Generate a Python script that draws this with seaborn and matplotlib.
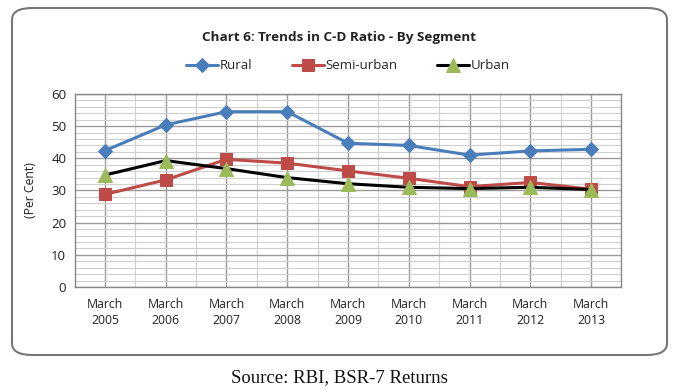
import matplotlib
matplotlib.use("Agg")
import matplotlib.pyplot as plt
import seaborn as sns
import pandas as pd
import numpy as np
from matplotlib.patches import FancyBboxPatch
from matplotlib.ticker import MultipleLocator

years = ["March\n2005", "March\n2006", "March\n2007", "March\n2008", "March\n2009",
         "March\n2010", "March\n2011", "March\n2012", "March\n2013"]
rural = [42.4, 50.4, 54.5, 54.5, 44.7, 44.0, 41.0, 42.3, 42.8]
semi_urban = [28.8, 33.3, 39.7, 38.5, 36.1, 33.8, 31.2, 32.5, 30.4]
urban = [34.8, 39.3, 36.8, 34.0, 32.1, 31.0, 30.6, 31.0, 30.3]

sns.set_theme(style="white")
plt.rcParams['font.family'] = ['Open Sans', 'DejaVu Sans']

fig = plt.figure(figsize=(6.79, 3.92), dpi=100)
W, H = 679, 392
ax = fig.add_axes([74.6 / W, 1 - 287 / H, (621.4 - 74.6) / W, (287 - 94) / H])

x = np.arange(len(years))
df = pd.DataFrame({"x": np.tile(x, 3),
                   "v": rural + semi_urban + urban,
                   "s": ["Rural"] * 9 + ["Semi-urban"] * 9 + ["Urban"] * 9})

line_cols = {"Rural": "#4a7ebb", "Semi-urban": "#be4b48", "Urban": "#000000"}
mk = {"Rural": "D", "Semi-urban": "s", "Urban": "^"}
mfc = {"Rural": "#4a7ebb", "Semi-urban": "#be4b48", "Urban": "#9bbb59"}
msz = {"Rural": 7.5, "Semi-urban": 8.5, "Urban": 9.5}

for name in ["Rural", "Semi-urban", "Urban"]:
    sub = df[df.s == name]
    sns.lineplot(data=sub, x="x", y="v", ax=ax, color=line_cols[name], lw=2.2,
                 marker=mk[name], markersize=msz[name], markerfacecolor=mfc[name],
                 markeredgecolor=mfc[name], label=name, zorder=3)

ax.set_xlim(-0.5, len(years) - 0.5)
ax.set_ylim(0, 60)
ax.yaxis.set_major_locator(MultipleLocator(10))
ax.yaxis.set_minor_locator(MultipleLocator(2))
ax.set_xticks(x)
ax.set_xticks(np.arange(-0.5, len(years), 1.0), minor=True)
ax.set_xticklabels(years, fontsize=8.8, color="#222222", linespacing=1.3)
ax.tick_params(axis="y", labelsize=9.5, colors="#222222", length=0, pad=6)
ax.tick_params(axis="x", length=0, pad=8)
ax.tick_params(which="minor", length=0)
ax.grid(which="major", color="#9a9a9a", lw=1.0)
ax.grid(which="minor", color="#cfcfcf", lw=0.8)
ax.set_axisbelow(True)
for sp in ax.spines.values():
    sp.set_color("#888888")
    sp.set_linewidth(1.0)
ax.set_xlabel("")
ax.set_ylabel("(Per Cent)", fontsize=8.8, color="#222222", labelpad=10)

leg = ax.legend(loc="center", bbox_to_anchor=(0.5, 1 + (94 - 66) / 193), ncol=3, frameon=False,
                fontsize=9.5, handlelength=2.4, columnspacing=3.0, handletextpad=0.15)

fig.text(0.5, 1 - 37 / H, "Chart 6: Trends in C-D Ratio - By Segment", ha="center", va="center",
         fontsize=9.7, fontweight="bold", color="#222222")

box = FancyBboxPatch((12 / W, 1 - 355 / H), (667 - 12) / W, (355 - 8) / H,
                     boxstyle="round,pad=0,rounding_size=0.03", transform=fig.transFigure,
                     facecolor="none", edgecolor="#777777", lw=1.5, zorder=0)
fig.patches.append(box)

fig.text(0.5, 1 - 378 / H, "Source: RBI, BSR-7 Returns", ha="center", va="center",
         fontsize=13.5, family="Liberation Serif", color="#111111")

fig.savefig("out.png", dpi=100)
